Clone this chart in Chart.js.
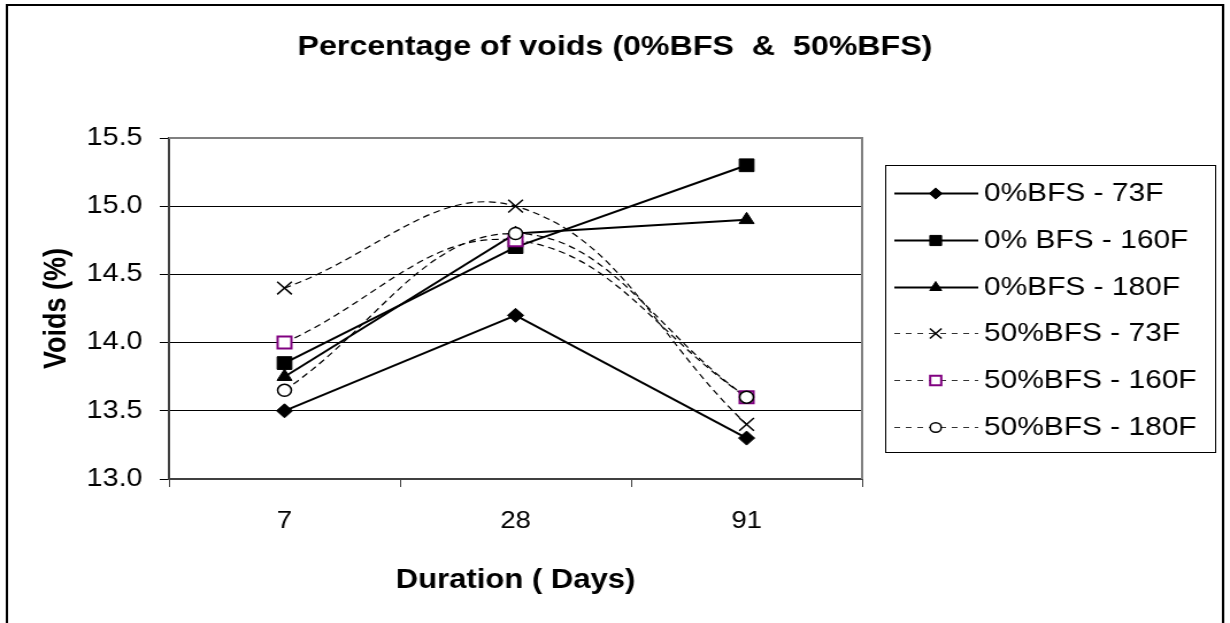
<!DOCTYPE html>
<html>
<head>
<meta charset="utf-8">
<title>Percentage of voids</title>
<script src="https://cdn.jsdelivr.net/npm/chart.js@4.4.1/dist/chart.umd.min.js"></script>
<style>
  html, body { margin: 0; padding: 0; background: #fff; overflow: hidden; }
  /* the chart is laid out narrower and widened to the page width */
  #wrap { width: 1070px; height: 623px; transform: scaleX(1.1495); transform-origin: 0 0; }
</style>
</head>
<body>
<div id="wrap"><canvas id="voidsChart" width="1070" height="623"></canvas></div>
<script>
const days = ["7", "28", "91"];
const bfs0_73 = [13.5, 14.2, 13.3];
const bfs0_160 = [13.85, 14.7, 15.3];
const bfs0_180 = [13.75, 14.8, 14.9];
const bfs50_73 = [14.4, 15.0, 13.4];
const bfs50_160 = [14.0, 14.75, 13.6];
const bfs50_180 = [13.65, 14.8, 13.6];
const seriesNames = ["0%BFS - 73F", "0% BFS - 160F", "0%BFS - 180F",
                     "50%BFS - 73F", "50%BFS - 160F", "50%BFS - 180F"];
const yMin = 13.0, yMax = 15.5, yStep = 0.5;

const FONT = "'Liberation Sans', Arial, sans-serif";
Chart.defaults.font.family = FONT;
Chart.defaults.color = "#000";

function solid(label, data, style, radius) {
  return {
    label: label, data: data,
    borderColor: "#000", borderWidth: 2, tension: 0,
    pointStyle: style, pointRadius: radius, pointHoverRadius: radius,
    pointBackgroundColor: "#000", pointBorderColor: "#000", pointBorderWidth: 1,
  };
}

function dashed(label, data, style, radius, fill, stroke, bw) {
  return {
    label: label, data: data,
    borderColor: "#000", borderWidth: 1.2, borderDash: [6, 4], tension: 0.4,
    pointStyle: style, pointRadius: radius, pointHoverRadius: radius,
    pointBackgroundColor: fill, pointBorderColor: stroke, pointBorderWidth: bw,
  };
}

const datasets = [
  solid(seriesNames[0], bfs0_73, "rectRot", 7),
  solid(seriesNames[1], bfs0_160, "rect", 9),
  solid(seriesNames[2], bfs0_180, "triangle", 7.5),
  dashed(seriesNames[3], bfs50_73, "crossRot", 9, "#000", "#000", 1.5),
  dashed(seriesNames[4], bfs50_160, "rect", 8.5, "#fff", "#800080", 2),
  dashed(seriesNames[5], bfs50_180, "circle", 6, "#fff", "#000", 1.5),
];
// later series sit on top of earlier ones
datasets.forEach((d, i) => { d.order = datasets.length - i; });

// white page, outer frame and grey top/right edge of the plot
const framePlugin = {
  id: "frame",
  beforeDraw(chart) {
    const c = chart.ctx;
    c.save();
    c.fillStyle = "#fff";
    c.fillRect(0, 0, chart.width, chart.height);
    c.strokeStyle = "#000";
    c.lineWidth = 2;
    c.beginPath();
    c.moveTo(6, chart.height + 2);
    c.lineTo(6, 5);
    c.lineTo(1064, 5);
    c.lineTo(1064, chart.height + 2);
    c.stroke();
    c.restore();
  },
  beforeDatasetsDraw(chart) {
    const a = chart.chartArea, c = chart.ctx;
    c.save();
    c.strokeStyle = "#808080";
    c.lineWidth = 2;
    c.beginPath();
    c.moveTo(a.left, a.top);
    c.lineTo(a.right, a.top);
    c.lineTo(a.right, a.bottom);
    c.stroke();
    c.restore();
  },
};

// legend box with a line sample and marker for each series
const legendPlugin = {
  id: "boxLegend",
  afterDraw(chart) {
    const c = chart.ctx;
    const box = { x: 770, y: 165, w: 287, h: 287 };
    c.save();
    c.strokeStyle = "#000";
    c.lineWidth = 1;
    c.strokeRect(box.x + 0.5, box.y + 0.5, box.w, box.h);
    c.font = "26px " + FONT;
    c.textBaseline = "middle";
    c.textAlign = "left";
    chart.data.datasets.forEach((ds, i) => {
      const y = Math.round(box.y + 28 + i * 46.8) + 0.5;
      c.save();
      c.strokeStyle = ds.borderWidth > 1.5 ? "#000" : "#333";
      c.lineWidth = ds.borderWidth > 1.5 ? 2 : 1;
      c.setLineDash(ds.borderDash ? [5, 5] : []);
      c.beginPath();
      c.moveTo(778, y);
      c.lineTo(851, y);
      c.stroke();
      c.restore();
      c.save();
      c.fillStyle = ds.pointBackgroundColor;
      c.strokeStyle = ds.pointBorderColor;
      c.lineWidth = ds.pointBorderWidth;
      Chart.helpers.drawPoint(c, {
        pointStyle: ds.pointStyle, radius: ds.pointRadius * 0.8,
        rotation: 0, borderWidth: ds.pointBorderWidth,
      }, 814, y);
      c.restore();
      c.fillStyle = "#000";
      c.fillText(ds.label, 856, y);
    });
    c.restore();
  },
};

new Chart(document.getElementById("voidsChart"), {
  type: "line",
  data: { labels: days, datasets: datasets },
  plugins: [framePlugin, legendPlugin],
  options: {
    responsive: false,
    animation: false,
    devicePixelRatio: 1,
    layout: { padding: { left: 12, right: 12, top: 10, bottom: 10 } },
    plugins: {
      legend: { display: false },
      tooltip: { enabled: false },
      title: {
        display: true,
        text: "Percentage of voids (0%BFS  &  50%BFS)",
        font: { size: 28, weight: "bold" },
        color: "#000",
        padding: { top: 20, bottom: 74.4 },
      },
    },
    scales: {
      x: {
        offset: true,
        afterFit(scale) { scale.height = 134; },
        grid: { drawOnChartArea: false, offset: true, tickLength: 8, color: "#404040", lineWidth: 1 },
        border: { color: "#404040", width: 2 },
        ticks: { font: { size: 24 }, padding: 20, color: "#000" },
        title: {
          display: true, text: "Duration ( Days)",
          font: { size: 27, weight: "bold" }, color: "#000",
          padding: { top: 0, bottom: 16 },
        },
      },
      y: {
        min: yMin, max: yMax,
        afterFit(scale) { scale.width = 135; },
        grid: {
          color: (ctx) => (ctx.tick && ctx.tick.value === yMax ? "#808080" : "#000"),
          lineWidth: 1, tickLength: 8, tickColor: "#000",
        },
        border: { color: "#404040", width: 2 },
        ticks: {
          stepSize: yStep, padding: 15, font: { size: 25 }, color: "#000",
          callback: (v) => Number(v).toFixed(1),
        },
        title: {
          display: true, text: "Voids (%)",
          font: { size: 27, weight: "bold" }, color: "#000",
          padding: { top: 21, bottom: 0 },
        },
      },
      // empty right-hand axis that keeps room for the legend box
      legendSpace: {
        position: "right",
        afterFit(scale) { scale.width = 308; },
        grid: { display: false },
        border: { display: false },
        ticks: { display: false },
      },
    },
  },
});
</script>
</body>
</html>
